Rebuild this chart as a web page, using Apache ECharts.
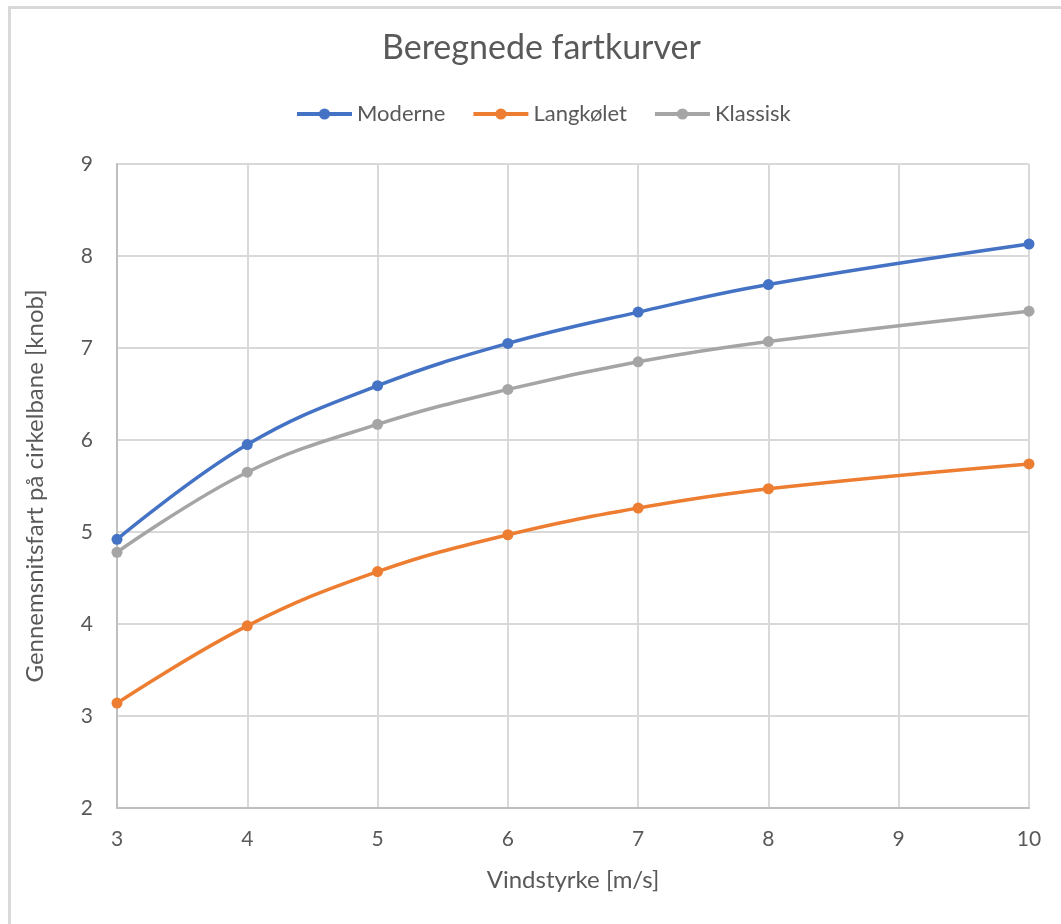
<!DOCTYPE html>
<html>
<head>
<meta charset="utf-8">
<script src="https://cdn.jsdelivr.net/npm/echarts@6/dist/echarts.min.js"></script>
<style>
html,body{margin:0;padding:0;width:1061px;height:924px;overflow:hidden;background:#fff;}
#frame{position:absolute;left:8px;top:6px;width:1200px;height:1100px;border:3px solid #d9d9d9;box-sizing:border-box;}
#chart{position:absolute;left:0;top:0;width:1061px;height:924px;}
</style>
</head>
<body>
<div id="frame"></div>
<div id="chart"></div>
<script>
const windSpeeds = [3, 4, 5, 6, 7, 8, 10];
const moderne    = [4.92, 5.95, 6.59, 7.05, 7.39, 7.69, 8.13];
const langkoelet = [3.14, 3.98, 4.57, 4.97, 5.26, 5.47, 5.74];
const klassisk   = [4.78, 5.65, 6.17, 6.55, 6.85, 7.07, 7.40];
const seriesNames = ['Moderne', 'Langkølet', 'Klassisk'];
const colors = ['#4472C4', '#ED7D31', '#A5A5A5'];

const pairs = arr => windSpeeds.map((x, i) => [x, arr[i]]);
const allData = [moderne, langkoelet, klassisk];
const font = 'Lato, "Open Sans", sans-serif';

const chart = echarts.init(document.getElementById('chart'), null, {renderer: 'canvas'});
chart.setOption({
  animation: false,
  backgroundColor: 'transparent',
  title: {
    text: 'Beregnede fartkurver',
    left: 377,
    top: 26,
    textStyle: {fontFamily: font, fontSize: 34, fontWeight: 'normal', color: '#595959'}
  },
  legend: {
    top: 98,
    left: 290,
    itemWidth: 55,
    itemHeight: 14,
    itemGap: 26,
    data: seriesNames,
    lineStyle: {width: 4},
    textStyle: {fontFamily: font, fontSize: 22, color: '#595959'}
  },
  grid: {left: 117, right: 32, top: 164, bottom: 116},
  xAxis: {
    type: 'value',
    min: 3, max: 10, interval: 1,
    name: 'Vindstyrke [m/s]',
    nameLocation: 'middle',
    nameGap: 60,
    nameTextStyle: {fontFamily: font, fontSize: 24, color: '#595959'},
    axisLine: {show: true, lineStyle: {color: '#bfbfbf', width: 2}},
    axisTick: {show: false},
    axisLabel: {margin: 21, fontFamily: font, fontSize: 21, color: '#595959'},
    splitLine: {show: true, lineStyle: {color: '#d9d9d9', width: 2}}
  },
  yAxis: {
    type: 'value',
    min: 2, max: 9, interval: 1,
    name: 'Gennemsnitsfart på cirkelbane [knob]',
    nameLocation: 'middle',
    nameGap: 70,
    nameRotate: 90,
    nameTextStyle: {fontFamily: font, fontSize: 24, color: '#595959'},
    axisLine: {show: true, lineStyle: {color: '#bfbfbf', width: 2}},
    axisTick: {show: false},
    axisLabel: {margin: 24, fontFamily: font, fontSize: 21, color: '#595959'},
    splitLine: {show: true, lineStyle: {color: '#d9d9d9', width: 2}}
  },
  series: seriesNames.map((name, i) => ({
    name: name,
    type: 'line',
    smooth: 0.4,
    data: pairs(allData[i]),
    symbol: 'circle',
    symbolSize: 11,
    itemStyle: {color: colors[i]},
    lineStyle: {color: colors[i], width: 3.5}
  }))
});
</script>
</body>
</html>
